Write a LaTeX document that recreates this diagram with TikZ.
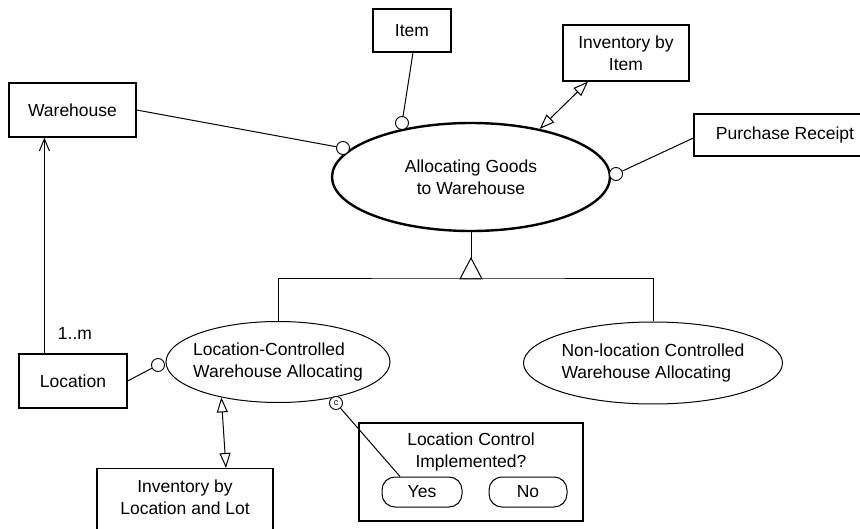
\documentclass[tikz,border=0pt]{standalone}
\usepackage{fontspec}
\setmainfont{Liberation Sans}
\usetikzlibrary{shapes.geometric,arrows.meta}
\begin{document}
\begin{tikzpicture}[x=1pt,y=-1pt,
  every node/.style={font=\fontsize{17.5}{22}\selectfont},
  box/.style={draw, rectangle, line width=1.2pt, inner sep=0pt, align=center},
  usecase/.style={draw, ellipse, line width=1pt, inner sep=0pt, inner xsep=-20pt, align=left},
  mainuc/.style={usecase, line width=2.4pt, align=center},
  port/.style={draw, circle, fill=white, line width=0.9pt, minimum size=13pt, inner sep=0pt},
  pill/.style={draw, rectangle, rounded corners=13pt, line width=1pt, inner sep=0pt},
  lbl/.style={inner sep=0pt, align=center, anchor=north},
  link/.style={line width=1pt},
  dual/.style={line width=1pt,
    {Triangle[open,length=15pt,width=11pt]}-{Triangle[open,length=15pt,width=11pt]}},
]
\useasboundingbox (0,0) rectangle (860,529);
\clip (0,0) rectangle (860,529);

% classes
\node[box, minimum width=127pt, minimum height=54pt] (wh) at (72.5,110) {Warehouse};
\node[box, minimum width=78pt, minimum height=43pt] (item) at (412,30.5) {Item};
\node[box, minimum width=126pt, minimum height=56pt] (invitem) at (626,53) {Inventory by\\Item};
\node[box, minimum width=182pt, minimum height=42pt] (pr) at (785,135) {Purchase Receipt};
\node[box, minimum width=108pt, minimum height=54pt] (loc) at (73,381) {Location};
\node[box, minimum width=176pt, minimum height=80pt, anchor=north,
  label={[lbl, label distance=-12pt]north:{Inventory by\\Location and Lot}}] (invloc) at (185,468) {};

% use cases
\node[mainuc, minimum width=278pt, minimum height=108pt] (alloc) at (471,177) {Allocating Goods\\to Warehouse};
\node[usecase, minimum width=224pt, minimum height=81pt] (lcw) at (278,362) {Location-Controlled\\Warehouse Allocating};
\node[usecase, minimum width=259pt, minimum height=82pt] (nlw) at (653,363) {Non-location Controlled\\Warehouse Allocating};

% condition with its two outcomes
\node[box, minimum width=224pt, minimum height=98pt,
  label={[lbl, label distance=-10pt]north:{Location Control\\Implemented?}}] (dec) at (471,472) {};
\node[pill, minimum width=80pt, minimum height=30pt] (yes) at (422,492) {Yes};
\node[pill, minimum width=78pt, minimum height=30pt] (no) at (528,492) {No};

% connection ports
\node[port] (pwh) at (343,148) {};
\node[port] (pitem) at (402,123) {};
\node[port] (ppr) at (616,174) {};
\node[port] (ploc) at (158,365) {};
\node[port, font=\fontsize{9}{9}\selectfont] (pc) at (336,403) {c};

% connectors
\draw[link] (wh.east) -- (pwh);
\draw[link] ([xshift=1pt]item.south) -- (pitem);
\draw[link] ([yshift=-3pt]pr.west) -- (ppr);
\draw[link] (loc.east) -- (ploc);
\draw[link] (pc) -- ([xshift=-22pt]yes.north);
\draw[link, -{Straight Barb[length=12pt,width=10pt]}] ([xshift=26pt]loc.north west) -- ([xshift=36pt]wh.south west);
\node (mult) at (75,333) {1..m};
\draw[dual] (alloc.35) -- ([xshift=-38pt]invitem.south);
\draw[dual] (lcw.212) -- ([xshift=41pt]invloc.north);

% generalization
\coordinate (apex) at (471,258);
\coordinate (bar) at (471,279);
\draw[link] (alloc.south) -- (apex);
\draw[link] (apex) -- ++(-11,21) -- ++(22,0) -- cycle;
\draw[link] (lcw.north) |- (bar) -| (nlw.north);
\end{tikzpicture}
\end{document}
